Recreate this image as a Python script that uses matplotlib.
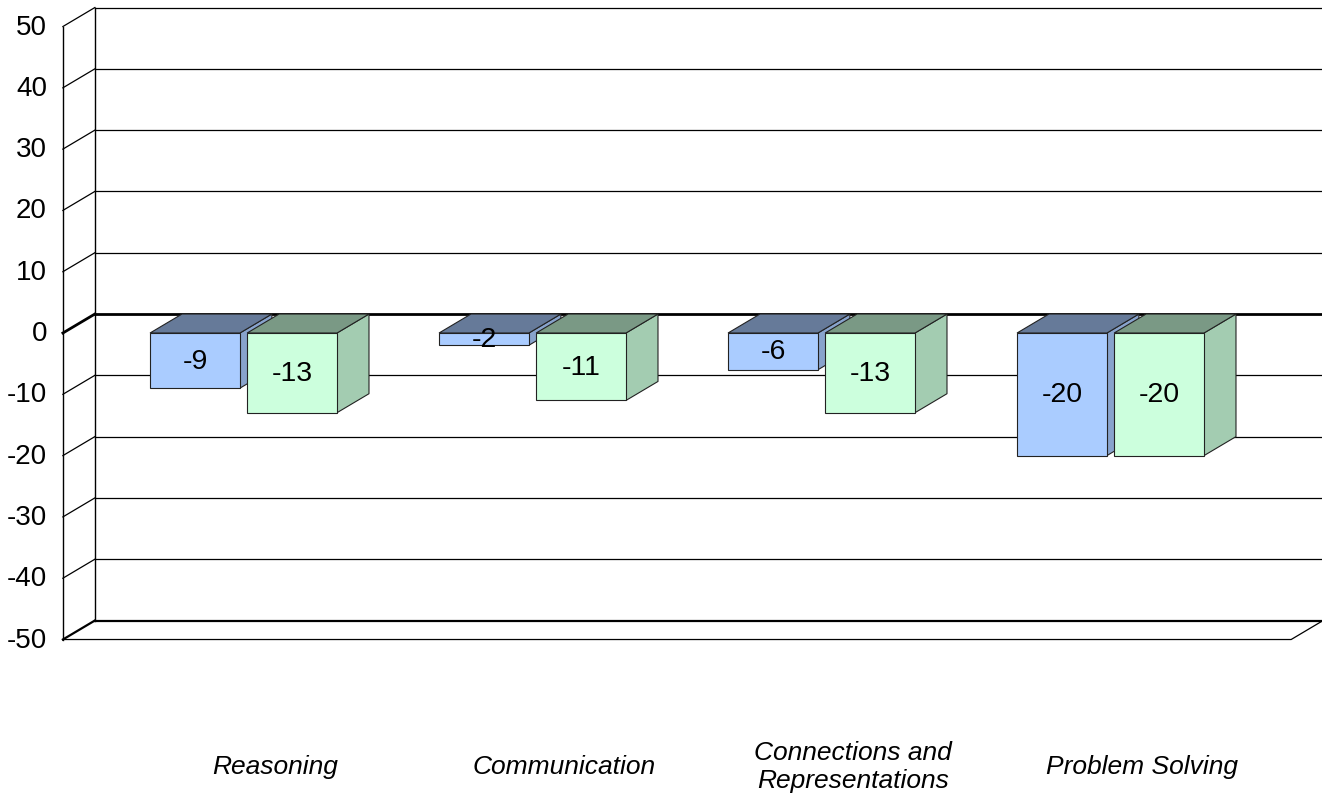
import matplotlib
matplotlib.use("Agg")
import matplotlib.pyplot as plt
from matplotlib.patches import Polygon

plt.rcParams['font.family'] = ['Liberation Sans', 'DejaVu Sans']

# donnees
categories = ["Reasoning", "Communication", "Connections and\nRepresentations", "Problem Solving"]
serie_bleue = [-9, -2, -6, -20]
serie_verte = [-13, -11, -13, -20]
graduations = [50, 40, 30, 20, 10, 0, -10, -20, -30, -40, -50]

# couleurs des faces (avant, dessus, cote)
bleu = ("#AACCFF", "#667A99", "#88A3CC")
vert = ("#CCFFDD", "#7A9985", "#A3CCB1")

# geometrie de la pseudo 3D
dx, dy = 0.1107, 3.10          # profondeur (unites categorie / valeur)
x_gauche, x_droite = -0.625, 3.625
larg = 0.311
decal = 0.168
ymin, ymax = -50, 50

fig = plt.figure(figsize=(13.22, 8.04), dpi=100)
ax = fig.add_axes([0, 0, 1, 1])
ax.set_xlim(-0.8426, 3.7318)
ax.set_ylim(-76.67, 54.49)
ax.axis("off")

# mur du fond : lignes de grille
for v in graduations:
    lw = 2.0 if v == 0 else (1.6 if v == ymin else 0.9)
    ax.plot([x_gauche + dx, x_droite + dx + 0.2], [v + dy, v + dy], color="black", lw=lw, zorder=1)
    ax.plot([x_gauche, x_gauche + dx], [v, v + dy], color="black", lw=lw, zorder=1)

# montants du mur de gauche
ax.plot([x_gauche, x_gauche], [ymin, ymax], color="black", lw=1.0, zorder=1)
ax.plot([x_gauche + dx, x_gauche + dx], [ymin + dy, ymax + dy], color="black", lw=1.0, zorder=1)

# sol
ax.plot([x_gauche, x_droite, x_droite + dx], [ymin, ymin, ymin + dy], color="black", lw=0.9, zorder=1)

# etiquettes de l'axe des valeurs
for v in graduations:
    ax.text(x_gauche - 0.055, v, str(v), ha="right", va="center", fontsize=20)


def barre(xc, v, couleurs):
    x0, x1 = xc - larg / 2, xc + larg / 2
    avant, dessus, cote = couleurs
    kw = dict(edgecolor="#222222", lw=0.8, zorder=3)
    ax.add_patch(Polygon([(x1, 0), (x1 + dx, dy), (x1 + dx, v + dy), (x1, v)], facecolor=cote, **kw))
    ax.add_patch(Polygon([(x0, 0), (x1, 0), (x1 + dx, dy), (x0 + dx, dy)], facecolor=dessus, **kw))
    ax.add_patch(Polygon([(x0, 0), (x1, 0), (x1, v), (x0, v)], facecolor=avant, **kw))
    ax.text(xc, v / 2, str(v), ha="center", va="center", fontsize=20.5, zorder=4)


for i, cat in enumerate(categories):
    barre(i - decal, serie_bleue[i], bleu)
    barre(i + decal, serie_verte[i], vert)
    ax.text(i + 0.11, -70.6, cat, ha="center", va="center", fontsize=19, style="italic")

fig.savefig("out.png", dpi=100)
